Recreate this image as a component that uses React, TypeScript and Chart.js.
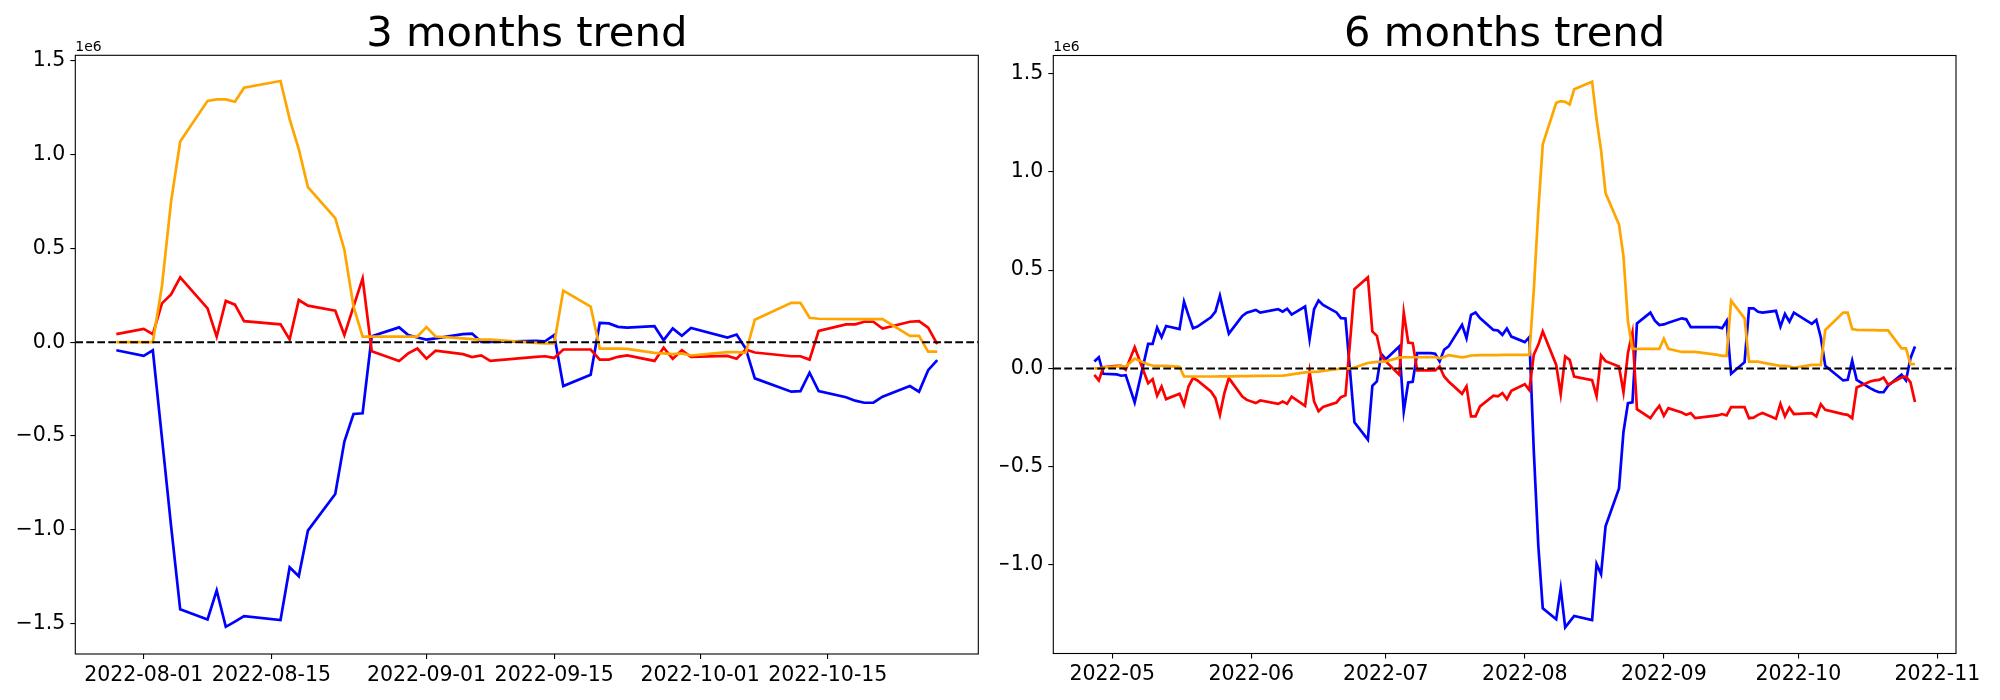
import React, { useEffect, useRef } from "react";
import { Chart, registerables } from "chart.js";

Chart.register(...registerables);

// ---------------- 3 months data (values in units of 1e6) ----------------
const dates3m = [
  "2022-07-29",
  "2022-08-01", "2022-08-02", "2022-08-03", "2022-08-04", "2022-08-05",
  "2022-08-08", "2022-08-09", "2022-08-10", "2022-08-11", "2022-08-12",
  "2022-08-16", "2022-08-17", "2022-08-18", "2022-08-19",
  "2022-08-22", "2022-08-23", "2022-08-24", "2022-08-25", "2022-08-26",
  "2022-08-29", "2022-08-30", "2022-08-31", "2022-09-01", "2022-09-02",
  "2022-09-05", "2022-09-06", "2022-09-07", "2022-09-08",
  "2022-09-13", "2022-09-14", "2022-09-15", "2022-09-16",
  "2022-09-19", "2022-09-20", "2022-09-21", "2022-09-22", "2022-09-23",
  "2022-09-26", "2022-09-27", "2022-09-28", "2022-09-29", "2022-09-30",
  "2022-10-04", "2022-10-05", "2022-10-06", "2022-10-07",
  "2022-10-11", "2022-10-12", "2022-10-13", "2022-10-14",
  "2022-10-17", "2022-10-18", "2022-10-19", "2022-10-20", "2022-10-21",
  "2022-10-24", "2022-10-25", "2022-10-26", "2022-10-27",
];

const blue3m = [
  -0.043,
  -0.073, -0.043, -0.51, -0.98, -1.425,
  -1.479, -1.324, -1.518, -1.49, -1.461,
  -1.482, -1.2, -1.248, -1.005,
  -0.81, -0.53, -0.383, -0.379, 0.032,
  0.079, 0.038, 0.025, 0.014, 0.02,
  0.043, 0.046, 0.002, 0.002,
  0.007, 0.005, 0.038, -0.234,
  -0.174, 0.103, 0.1, 0.082, 0.078,
  0.085, 0.011, 0.073, 0.034, 0.076,
  0.025, 0.041, -0.034, -0.193,
  -0.264, -0.261, -0.163, -0.261,
  -0.294, -0.312, -0.323, -0.323, -0.291,
  -0.234, -0.264, -0.149, -0.096,
];

const red3m = [
  0.043,
  0.071, 0.043, 0.207, 0.255, 0.346,
  0.18, 0.029, 0.22, 0.2, 0.112,
  0.095, 0.014, 0.225, 0.195,
  0.168, 0.038, 0.19, 0.34, -0.048,
  -0.1, -0.06, -0.034, -0.088, -0.045,
  -0.064, -0.079, -0.07, -0.1,
  -0.078, -0.075, -0.084, -0.039,
  -0.039, -0.093, -0.093, -0.078, -0.071,
  -0.1, -0.029, -0.088, -0.043, -0.078,
  -0.073, -0.088, -0.039, -0.055,
  -0.075, -0.075, -0.093, 0.06,
  0.095, 0.095, 0.109, 0.109, 0.073,
  0.109, 0.112, 0.078, -0.01,
];

const orange3m = [
  0.0,
  0.0, 0.0, 0.3, 0.75, 1.07,
  1.287, 1.295, 1.295, 1.282, 1.357,
  1.393, 1.19, 1.03, 0.827,
  0.662, 0.493, 0.19, 0.03, 0.03,
  0.03, 0.03, 0.03, 0.08, 0.03,
  0.02, 0.016, 0.014, 0.014,
  -0.004, -0.007, -0.007, 0.275,
  0.19, -0.034, -0.034, -0.034, -0.036,
  -0.057, -0.06, -0.064, -0.06, -0.071,
  -0.053, -0.053, -0.057, 0.12,
  0.21, 0.21, 0.13, 0.125,
  0.123, 0.123, 0.123, 0.123, 0.123,
  0.034, 0.034, -0.05, -0.05,
];

// ---------------- 6 months data (values in units of 1e6) ----------------
const dates6m = [
  "2022-04-27", "2022-04-28", "2022-04-29",
  "2022-05-02", "2022-05-03", "2022-05-04", "2022-05-06",
  "2022-05-09", "2022-05-10", "2022-05-11", "2022-05-12", "2022-05-13",
  "2022-05-16", "2022-05-17", "2022-05-18", "2022-05-19", "2022-05-20",
  "2022-05-23", "2022-05-24", "2022-05-25", "2022-05-26", "2022-05-27",
  "2022-05-30", "2022-05-31", "2022-06-02", "2022-06-03",
  "2022-06-07", "2022-06-08", "2022-06-09", "2022-06-10",
  "2022-06-13", "2022-06-14", "2022-06-15", "2022-06-16", "2022-06-17",
  "2022-06-20", "2022-06-21", "2022-06-22", "2022-06-23", "2022-06-24",
  "2022-06-27", "2022-06-28", "2022-06-29", "2022-06-30", "2022-07-01",
  "2022-07-04", "2022-07-05", "2022-07-06", "2022-07-07", "2022-07-08",
  "2022-07-11", "2022-07-12", "2022-07-13", "2022-07-14", "2022-07-15",
  "2022-07-18", "2022-07-19", "2022-07-20", "2022-07-21", "2022-07-22",
  "2022-07-25", "2022-07-26", "2022-07-27", "2022-07-28", "2022-07-29",
  "2022-08-01", "2022-08-02", "2022-08-03", "2022-08-04", "2022-08-05",
  "2022-08-08", "2022-08-09", "2022-08-10", "2022-08-11", "2022-08-12",
  "2022-08-16", "2022-08-17", "2022-08-18", "2022-08-19",
  "2022-08-22", "2022-08-23", "2022-08-24", "2022-08-25", "2022-08-26",
  "2022-08-29", "2022-08-30", "2022-08-31", "2022-09-01", "2022-09-02",
  "2022-09-05", "2022-09-06", "2022-09-07", "2022-09-08",
  "2022-09-13", "2022-09-14", "2022-09-15", "2022-09-16",
  "2022-09-19", "2022-09-20", "2022-09-21", "2022-09-22", "2022-09-23",
  "2022-09-26", "2022-09-27", "2022-09-28", "2022-09-29", "2022-09-30",
  "2022-10-04", "2022-10-05", "2022-10-06", "2022-10-07",
  "2022-10-11", "2022-10-12", "2022-10-13", "2022-10-14",
  "2022-10-17", "2022-10-18", "2022-10-19", "2022-10-20", "2022-10-21",
  "2022-10-24", "2022-10-25", "2022-10-26", "2022-10-27",
];

const blue6m = [
  0.035, 0.057, -0.027,
  -0.03, -0.037, -0.034, -0.173,
  0.125, 0.125, 0.208, 0.159, 0.216,
  0.2, 0.34, 0.27, 0.205, 0.213,
  0.26, 0.289, 0.37, 0.27, 0.177,
  0.267, 0.284, 0.298, 0.284,
  0.301, 0.289, 0.304, 0.274,
  0.315, 0.149, 0.301, 0.346, 0.323,
  0.285, 0.256, 0.254, -0.007, -0.274,
  -0.362, -0.088, -0.066, 0.073, 0.047,
  0.112, -0.218, -0.071, -0.068, 0.078,
  0.078, 0.075, 0.036, 0.095, 0.112,
  0.222, 0.154, 0.273, 0.285, 0.256,
  0.196, 0.193, 0.171, 0.203, 0.162,
  0.134, 0.159, -0.42, -0.9, -1.22,
  -1.276, -1.12, -1.317, -1.288, -1.259,
  -1.28, -0.994, -1.046, -0.803,
  -0.61, -0.322, -0.176, -0.172, 0.229,
  0.284, 0.243, 0.221, 0.224, 0.233,
  0.255, 0.25, 0.21, 0.21,
  0.21, 0.205, 0.242, -0.027,
  0.032, 0.306, 0.306, 0.288, 0.284,
  0.293, 0.213, 0.277, 0.238, 0.284,
  0.227, 0.247, 0.159, 0.013,
  -0.061, -0.058, 0.04, -0.058,
  -0.1, -0.112, -0.121, -0.121, -0.088,
  -0.032, -0.061, 0.052, 0.112,
];

const red6m = [
  -0.033, -0.061, 0.006,
  0.013, 0.013, -0.007, 0.108,
  -0.075, -0.055, -0.139, -0.092, -0.156,
  -0.129, -0.185, -0.092, -0.049, -0.061,
  -0.117, -0.151, -0.236, -0.125, -0.049,
  -0.143, -0.16, -0.176, -0.163,
  -0.18, -0.168, -0.18, -0.143,
  -0.19, -0.015, -0.168, -0.218, -0.196,
  -0.173, -0.146, -0.137, 0.129, 0.403,
  0.464, 0.188, 0.166, 0.061, 0.036,
  -0.032, 0.285, 0.132, 0.129, -0.01,
  -0.01, -0.01, 0.01, -0.041, -0.066,
  -0.129, -0.091, -0.244, -0.244, -0.193,
  -0.139, -0.142, -0.125, -0.156, -0.114,
  -0.08, -0.11, 0.07, 0.12, 0.188,
  0.018, -0.131, 0.061, 0.044, -0.041,
  -0.06, -0.141, 0.066, 0.037,
  0.01, -0.121, 0.08, 0.183, -0.207,
  -0.253, -0.219, -0.19, -0.241, -0.202,
  -0.224, -0.236, -0.227, -0.253,
  -0.239, -0.232, -0.239, -0.197,
  -0.197, -0.253, -0.25, -0.236, -0.227,
  -0.256, -0.18, -0.244, -0.199, -0.232,
  -0.227, -0.244, -0.182, -0.21,
  -0.232, -0.236, -0.253, -0.097,
  -0.066, -0.061, -0.058, -0.046, -0.083,
  -0.046, -0.041, -0.071, -0.171,
];

const orange6m = [
  0.0, 0.0, 0.005,
  0.01, 0.012, 0.01, 0.05,
  0.02, 0.015, 0.013, 0.013, 0.013,
  0.008, -0.04, -0.041, -0.041, -0.041,
  -0.041, -0.041, -0.04, -0.04, -0.04,
  -0.039, -0.039, -0.038, -0.038,
  -0.037, -0.036, -0.034, -0.03,
  -0.02, -0.018, -0.017, -0.016, -0.012,
  -0.004, 0.0, 0.0, 0.0, 0.005,
  0.028, 0.031, 0.033, 0.034, 0.036,
  0.055, 0.057, 0.057, 0.057, 0.057,
  0.058, 0.058, 0.052, 0.058, 0.068,
  0.056, 0.06, 0.066, 0.067, 0.068,
  0.068, 0.068, 0.069, 0.069, 0.069,
  0.069, 0.069, 0.4, 0.8, 1.14,
  1.351, 1.36, 1.356, 1.343, 1.42,
  1.459, 1.266, 1.11, 0.892,
  0.732, 0.57, 0.239, 0.1, 0.1,
  0.1, 0.1, 0.1, 0.151, 0.1,
  0.084, 0.084, 0.084, 0.084,
  0.069, 0.064, 0.064, 0.345,
  0.255, 0.035, 0.035, 0.035, 0.03,
  0.017, 0.013, 0.013, 0.01, 0.003,
  0.018, 0.018, 0.018, 0.196,
  0.284, 0.284, 0.2, 0.196,
  0.195, 0.195, 0.194, 0.194, 0.194,
  0.102, 0.102, 0.022, 0.022,
];

// ---------------- tick labels ----------------
const xTicks3m = ["2022-08-01", "2022-08-15", "2022-09-01", "2022-09-15", "2022-10-01", "2022-10-15"];
const xTicks6m = ["2022-05-01", "2022-06-01", "2022-07-01", "2022-08-01", "2022-09-01", "2022-10-01", "2022-11-01"];
const yTicks3m = [-1.5, -1.0, -0.5, 0.0, 0.5, 1.0, 1.5];
const yTicks6m = [-1.0, -0.5, 0.0, 0.5, 1.0, 1.5];

const DAY = 86400000;
const toDay = (s: string) =>
  Date.UTC(+s.slice(0, 4), +s.slice(5, 7) - 1, +s.slice(8, 10)) / DAY;
const pad2 = (n: number) => (n < 10 ? "0" + n : "" + n);
const fmtDay = (d: number, monthOnly: boolean) => {
  const dt = new Date(Math.round(d) * DAY);
  const s = dt.getUTCFullYear() + "-" + pad2(dt.getUTCMonth() + 1);
  return monthOnly ? s : s + "-" + pad2(dt.getUTCDate());
};
const fmtY = (v: number) => {
  const s = Math.abs(v) < 1e-9 ? "0.0" : v.toFixed(1);
  return s.replace("-", "\u2212");
};

const FONT = '"DejaVu Sans", "Liberation Sans", sans-serif';

const decorPlugin = {
  id: "decor",
  afterDraw(chart: any, _args: any, opts: any) {
    const { ctx, chartArea: a } = chart;
    ctx.save();
    ctx.strokeStyle = "#000";
    ctx.lineWidth = 1.1;
    ctx.strokeRect(a.left, a.top, a.right - a.left, a.bottom - a.top);
    ctx.fillStyle = "#000";
    ctx.textBaseline = "alphabetic";
    ctx.font = "41.7px " + FONT;
    ctx.textAlign = "center";
    ctx.fillText(opts.title, (a.left + a.right) / 2, 46);
    ctx.font = "13.9px " + FONT;
    ctx.textAlign = "left";
    ctx.fillText("1e6", a.left, 51);
    ctx.restore();
  },
};

type Props = {
  title: string;
  dates: string[];
  blue: number[];
  red: number[];
  orange: number[];
  xTicks: string[];
  monthOnly: boolean;
  yTicks: number[];
  yMin: number;
  yMax: number;
  left: number;
  axisLeft: number;
  axisRight: number;
  axisTop: number;
  axisBottom: number;
};

function TrendChart(p: Props) {
  const ref = useRef<HTMLCanvasElement>(null);
  useEffect(() => {
    if (!ref.current) return;
    const xs = p.dates.map(toDay);
    const span = xs[xs.length - 1] - xs[0];
    const xMin = xs[0] - 0.05 * span;
    const xMax = xs[xs.length - 1] + 0.05 * span;
    const mk = (vals: number[]) => vals.map((v, i) => ({ x: xs[i], y: v }));
    const W = 1000;
    const H = 700;
    const line = (data: any, color: string, order: number, width: number) => ({
      data,
      borderColor: color,
      backgroundColor: color,
      borderWidth: width,
      pointRadius: 0,
      tension: 0,
      fill: false,
      order,
    });
    const chart = new Chart(ref.current, {
      type: "line",
      data: {
        datasets: [
          {
            ...line([{ x: xMin, y: 0 }, { x: xMax, y: 0 }], "#000000", 0, 2.1),
            borderDash: [7.7, 3.3],
          },
          line(mk(p.orange), "#ffa500", 1, 2.7),
          line(mk(p.red), "#ff0000", 2, 2.7),
          line(mk(p.blue), "#0000ff", 3, 2.7),
        ] as any,
      },
      options: {
        animation: false,
        responsive: false,
        devicePixelRatio: 1,
        events: [],
        layout: {
          padding: { left: 0, top: p.axisTop, right: W - p.axisRight, bottom: 0 },
        },
        plugins: {
          legend: { display: false },
          tooltip: { enabled: false },
          title: { display: false },
          decor: { title: p.title },
        } as any,
        scales: {
          x: {
            type: "linear",
            min: xMin,
            max: xMax,
            afterFit: (s: any) => {
              s.height = H - p.axisBottom;
            },
            afterBuildTicks: (s: any) => {
              s.ticks = p.xTicks.map((t) => ({ value: toDay(t) }));
            },
            grid: {
              display: true,
              drawOnChartArea: false,
              drawTicks: true,
              tickLength: 5,
              color: "#000",
              lineWidth: 1.1,
            },
            border: { display: false },
            ticks: {
              autoSkip: false,
              maxRotation: 0,
              minRotation: 0,
              padding: 4,
              color: "#000",
              font: { family: FONT, size: 20.5 },
              callback: (v: any) => fmtDay(Number(v), p.monthOnly),
            },
          },
          y: {
            type: "linear",
            min: p.yMin,
            max: p.yMax,
            afterFit: (s: any) => {
              s.width = p.axisLeft;
            },
            afterBuildTicks: (s: any) => {
              s.ticks = p.yTicks.map((v) => ({ value: v }));
            },
            grid: {
              display: true,
              drawOnChartArea: false,
              drawTicks: true,
              tickLength: 5,
              color: "#000",
              lineWidth: 1.1,
            },
            border: { display: false },
            ticks: {
              padding: 5,
              color: "#000",
              font: { family: FONT, size: 20.5 },
              callback: (v: any) => fmtY(Number(v)),
            },
          },
        },
      } as any,
      plugins: [decorPlugin as any],
    });
    return () => chart.destroy();
  }, []);
  return (
    <canvas
      ref={ref}
      width={1000}
      height={700}
      style={{ position: "absolute", left: p.left, top: 0, width: 1000, height: 700 }}
    />
  );
}

export default function App() {
  return (
    <div
      style={{
        position: "absolute",
        left: 0,
        top: 0,
        width: 2000,
        height: 700,
        background: "#fff",
        overflow: "hidden",
      }}
    >
      <TrendChart
        title="3 months trend"
        dates={dates3m}
        blue={blue3m}
        red={red3m}
        orange={orange3m}
        xTicks={xTicks3m}
        monthOnly={false}
        yTicks={yTicks3m}
        yMin={-1.663}
        yMax={1.53}
        left={0}
        axisLeft={75.3}
        axisRight={978.3}
        axisTop={55.3}
        axisBottom={654}
      />
      <TrendChart
        title="6 months trend"
        dates={dates6m}
        blue={blue6m}
        red={red6m}
        orange={orange6m}
        xTicks={xTicks6m}
        monthOnly={true}
        yTicks={yTicks6m}
        yMin={-1.45}
        yMax={1.592}
        left={1000}
        axisLeft={53.3}
        axisRight={956}
        axisTop={55.5}
        axisBottom={653.5}
      />
    </div>
  );
}
